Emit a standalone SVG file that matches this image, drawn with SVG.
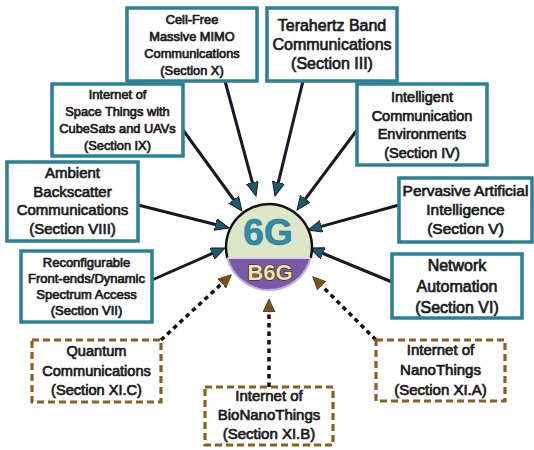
<svg xmlns="http://www.w3.org/2000/svg" width="534" height="450" viewBox="0 0 534 450">
<style>
.box{fill:#fff;stroke:#2a8197;stroke-width:3.5}
.dbox{fill:#fff;stroke:#8a5f1f;stroke-width:3.2;stroke-dasharray:7 4}
.t{font-family:"Liberation Sans",Arial,sans-serif;fill:#1a1a1a;stroke:#1a1a1a;stroke-width:0.7;text-anchor:middle}
.ln{stroke:#141a24;stroke-width:3;fill:none}
.dl{stroke:#111;stroke-width:3.5;fill:none;stroke-dasharray:4.5 4}
</style>
<defs>
<marker id="ah" markerUnits="userSpaceOnUse" markerWidth="16" markerHeight="14" refX="1" refY="6" orient="auto">
<path d="M0,0 L14,6 L0,12 Z" fill="#1e5a6c" stroke="#10202a" stroke-width="1"/>
</marker>
<marker id="bh" markerUnits="userSpaceOnUse" markerWidth="16" markerHeight="14" refX="1" refY="6" orient="auto">
<path d="M0,0 L13,6 L0,12 Z" fill="#7b531a" stroke="#4a3010" stroke-width="0.8"/>
</marker>
</defs>
<g id="connectors">
<line class="ln" x1="225" y1="81" x2="252.6" y2="183.4" marker-end="url(#ah)"/>
<line class="ln" x1="303" y1="81" x2="278.1" y2="183.4" marker-end="url(#ah)"/>
<line class="ln" x1="183" y1="130" x2="234.3" y2="200.5" marker-end="url(#ah)"/>
<line class="ln" x1="357" y1="130" x2="304.8" y2="199.6" marker-end="url(#ah)"/>
<line class="ln" x1="138" y1="205" x2="216.4" y2="224.8" marker-end="url(#ah)"/>
<line class="ln" x1="152" y1="280" x2="213.1" y2="253.2" marker-end="url(#ah)"/>
<line class="ln" x1="399" y1="205" x2="320.5" y2="226.6" marker-end="url(#ah)"/>
<line class="ln" x1="392" y1="282" x2="322" y2="253" marker-end="url(#ah)"/>
<line class="dl" x1="161" y1="340" x2="222.5" y2="282.9" marker-end="url(#bh)"/>
<line class="dl" x1="376" y1="340" x2="321.2" y2="285.2" marker-end="url(#bh)"/>
<line class="dl" x1="269" y1="387" x2="269" y2="311" marker-end="url(#bh)"/>
</g>
<g id="center">
<path d="M227.4,258 A43,43 0 1 1 310.6,258 Z" fill="#dde6c7"/>
<path d="M227.4,258 A43,43 0 0 0 310.6,258 Z" fill="#7a5aa6" stroke="#c3aee0" stroke-width="2"/>
<path d="M227.4,258 A43,43 0 1 1 310.6,258" fill="none" stroke="#111" stroke-width="2.5"/>
<line x1="227.4" y1="258" x2="310.6" y2="258" stroke="#e6def0" stroke-width="1.5"/>
<text x="268" y="245" font-family="Liberation Sans,Arial,sans-serif" font-weight="bold" font-size="37" fill="#2e8dab" stroke="#22708a" stroke-width="0.6" text-anchor="middle">6G</text>
<text x="270" y="280" font-family="Liberation Sans,Arial,sans-serif" font-weight="bold" font-size="22" fill="#f2e88e" stroke="#2a1a3a" stroke-width="1.2" paint-order="stroke" text-anchor="middle">B6G</text>
</g>
<g id="cellfree">
<rect class="box" x="127" y="8" width="130" height="73"/>
<text class="t" font-size="12.8" x="192"><tspan x="192" y="24">Cell-Free</tspan><tspan x="192" y="41">Massive MIMO</tspan><tspan x="192" y="58">Communications</tspan><tspan x="192" y="75">(Section X)</tspan></text>
</g>
<g id="terahertz">
<rect class="box" x="267" y="8" width="130" height="73"/>
<text class="t" font-size="16" x="332"><tspan x="332" y="31">Terahertz Band</tspan><tspan x="332" y="50">Communications</tspan><tspan x="332" y="69">(Section III)</tspan></text>
</g>
<g id="spacethings">
<rect class="box" x="52" y="84" width="131" height="72"/>
<text class="t" font-size="12.8" x="117.5"><tspan x="117.5" y="99">Internet of</tspan><tspan x="117.5" y="116">Space Things with</tspan><tspan x="117.5" y="133">CubeSats and UAVs</tspan><tspan x="117.5" y="150">(Section IX)</tspan></text>
</g>
<g id="intelligent">
<rect class="box" x="357" y="84" width="130" height="81"/>
<text class="t" font-size="14.5" x="422"><tspan x="422" y="102">Intelligent</tspan><tspan x="422" y="121">Communication</tspan><tspan x="422" y="139">Environments</tspan><tspan x="422" y="158">(Section IV)</tspan></text>
</g>
<g id="ambient">
<rect class="box" x="7" y="162" width="131" height="79"/>
<text class="t" font-size="15" x="72.5"><tspan x="72.5" y="178">Ambient</tspan><tspan x="72.5" y="197">Backscatter</tspan><tspan x="72.5" y="215">Communications</tspan><tspan x="72.5" y="234">(Section VIII)</tspan></text>
</g>
<g id="pervasive">
<rect class="box" x="399" y="178" width="133" height="64"/>
<text class="t" font-size="15.5" x="465.5"><tspan x="465.5" y="196">Pervasive Artificial</tspan><tspan x="465.5" y="215">Intelligence</tspan><tspan x="465.5" y="234">(Section V)</tspan></text>
</g>
<g id="reconfigurable">
<rect class="box" x="21" y="251" width="131" height="71"/>
<text class="t" font-size="13" x="86.5"><tspan x="86.5" y="267">Reconfigurable</tspan><tspan x="86.5" y="283">Front-ends/Dynamic</tspan><tspan x="86.5" y="299">Spectrum Access</tspan><tspan x="86.5" y="315">(Section VII)</tspan></text>
</g>
<g id="network">
<rect class="box" x="392" y="254" width="130" height="64"/>
<text class="t" font-size="16" x="457"><tspan x="457" y="271">Network</tspan><tspan x="457" y="292">Automation</tspan><tspan x="457" y="313">(Section VI)</tspan></text>
</g>
<g id="quantum">
<rect class="dbox" x="32" y="340" width="129" height="62"/>
<text class="t" font-size="14.6" x="96.5"><tspan x="96.5" y="356">Quantum</tspan><tspan x="96.5" y="376">Communications</tspan><tspan x="96.5" y="395">(Section XI.C)</tspan></text>
</g>
<g id="bionano">
<rect class="dbox" x="205" y="387" width="128" height="58"/>
<text class="t" font-size="15" x="269"><tspan x="269" y="401">Internet of</tspan><tspan x="269" y="420">BioNanoThings</tspan><tspan x="269" y="439">(Section XI.B)</tspan></text>
</g>
<g id="nanothings">
<rect class="dbox" x="376" y="340" width="129" height="61"/>
<text class="t" font-size="15" x="440.5"><tspan x="440.5" y="355">Internet of</tspan><tspan x="440.5" y="375">NanoThings</tspan><tspan x="440.5" y="395">(Section XI.A)</tspan></text>
</g>
</svg>
